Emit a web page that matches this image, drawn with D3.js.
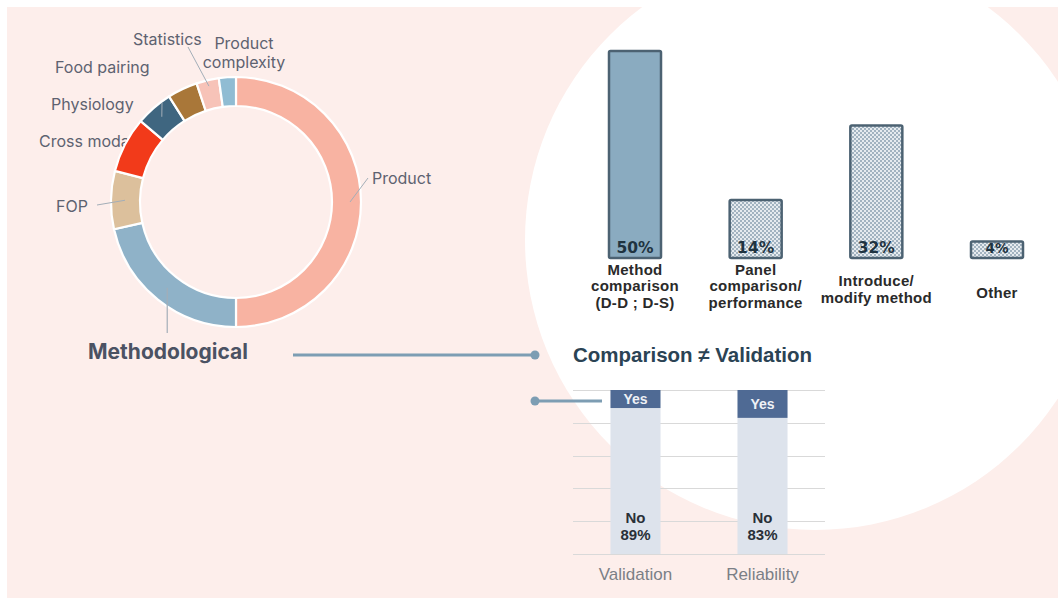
<!DOCTYPE html>
<html><head><meta charset="utf-8">
<script src="https://cdn.jsdelivr.net/npm/d3@7"></script>
<style>html,body{margin:0;padding:0;background:#fff;overflow:hidden}</style>
</head><body>
<svg id="c" width="1058" height="598"></svg>
<script>
// ---------- DATA ----------
const topicNames  = ["Product","Methodological","FOP","Cross modal","Physiology","Food pairing","Statistics","Product complexity"];
const topicShares = [50, 21.5, 7.5, 7.2, 4.8, 3.9, 2.9, 2.2];
const topicColors = ["#f8b3a2","#8fb2c8","#dcc09c","#f23a1a","#3f6680","#a97739","#f7c3b8","#90bcd3"];

const methodCats   = [["Method","comparison","(D-D ; D-S)"],["Panel","comparison/","performance"],["Introduce/","modify method"],["Other"]];
const methodShares = [50, 14, 32, 4];
const methodLabels = ["50%","14%","32%","4%"];

const checkCats  = ["Validation","Reliability"];
const checkYes   = [11, 17];
const checkNo    = [89, 83];
const checkNoLbl = ["89%","83%"];
const gridTicks  = [0,20,40,60,80,100];
const titleText  = "Comparison ≠ Validation";

// ---------- SETUP ----------
const svg = d3.select("#c");
const defs = svg.append("defs");
const pat = defs.append("pattern").attr("id","dots").attr("patternUnits","userSpaceOnUse")
  .attr("width",4).attr("height",4);
pat.append("rect").attr("width",4).attr("height",4).attr("fill","#e6ebef");
pat.append("rect").attr("width",2).attr("height",2).attr("fill","#a2b3c0");
pat.append("rect").attr("x",2).attr("y",2).attr("width",2).attr("height",2).attr("fill","#a2b3c0");

svg.append("rect").attr("x",7).attr("y",7).attr("width",1051).attr("height",591).attr("fill","#fdeeeb");
svg.append("circle").attr("cx",815).attr("cy",240).attr("r",290).attr("fill","#ffffff");

// ---------- DONUT ----------
const cx = 236, cy = 202, rOut = 125, rIn = 96;
const pie = d3.pie().sort(null).value(d => d);
const arcs = pie(topicShares);
const arc = d3.arc().innerRadius(rIn).outerRadius(rOut);
const polar = (r, a) => [cx + r * Math.sin(a), cy - r * Math.cos(a)];
const mid = d => (d.startAngle + d.endAngle) / 2;

const labelLayout = {
  "Product":            {x:372, y:184, anchor:"start", leader:[368,178], lr:114},
  "FOP":                {x:56,  y:212, anchor:"start", leader:[97,205],  lr:111},
  "Cross modal":        {x:39,  y:147, anchor:"start"},
  "Physiology":         {x:51,  y:110, anchor:"start", leader:[162,103], lr:113},
  "Food pairing":       {x:55,  y:73,  anchor:"start"},
  "Statistics":         {x:133, y:45,  anchor:"start", leader:[188,47],  lr:119},
  "Product complexity": {x:244, y:49,  anchor:"middle", lines:["Product","complexity"]}
};
const lblFont = "Inter, 'Noto Sans', sans-serif";

topicNames.forEach((n) => {
  const L = labelLayout[n];
  if (!L) return;
  const t = svg.append("text").attr("x",L.x).attr("y",L.y).attr("text-anchor",L.anchor)
    .attr("font-family",lblFont).attr("font-size",16).attr("fill","#5d6270");
  const lines = L.lines || [n];
  lines.forEach((ln, k) => t.append("tspan").attr("x",L.x).attr("dy", k === 0 ? 0 : 19).text(ln));
});

const g = svg.append("g").attr("transform",`translate(${cx},${cy})`);
g.selectAll("path").data(arcs).join("path")
  .attr("d", arc)
  .attr("fill", (d,i) => topicColors[i])
  .attr("stroke","#ffffff").attr("stroke-width",2.2);

// leader lines
arcs.forEach((d,i) => {
  const L = labelLayout[topicNames[i]];
  if (!L || !L.leader) return;
  const p = polar(L.lr, mid(d));
  svg.append("line").attr("x1",p[0]).attr("y1",p[1]).attr("x2",L.leader[0]).attr("y2",L.leader[1])
    .attr("stroke","#a3aeb8").attr("stroke-width",1);
});
// Methodological callout
{
  const d = arcs[1];
  const p = polar(110, mid(d));
  svg.append("line").attr("x1",p[0]).attr("y1",p[1]).attr("x2",p[0]).attr("y2",333)
    .attr("stroke","#a3aeb8").attr("stroke-width",1.2);
  svg.append("text").attr("x",88).attr("y",359).attr("font-family",lblFont)
    .attr("font-size",21).attr("font-weight",700).attr("fill","#4b5263").text(topicNames[1]);
}

// connectors
const conColor = "#7d9db3";
svg.append("line").attr("x1",293).attr("y1",355).attr("x2",535).attr("y2",355)
  .attr("stroke",conColor).attr("stroke-width",3);
svg.append("circle").attr("cx",535).attr("cy",355).attr("r",4.5).attr("fill",conColor);
svg.append("line").attr("x1",535).attr("y1",401).attr("x2",602).attr("y2",401)
  .attr("stroke",conColor).attr("stroke-width",3);
svg.append("circle").attr("cx",535).attr("cy",401).attr("r",4.5).attr("fill",conColor);

// ---------- TOP BAR CHART ----------
const x1 = d3.scalePoint().domain(d3.range(methodShares.length)).range([635, 997]);
const y1 = d3.scaleLinear().domain([0, 50]).range([258, 51]);
const bw = 52;
const gb = svg.append("g");
gb.selectAll("rect").data(methodShares).join("rect")
  .attr("x", (d,i) => x1(i) - bw/2)
  .attr("y", d => y1(d))
  .attr("width", bw)
  .attr("height", d => y1(0) - y1(d))
  .attr("rx", 1.5)
  .attr("fill", (d,i) => i === 0 ? "#8aabc0" : "url(#dots)")
  .attr("stroke","#4c6272").attr("stroke-width",2.5);
gb.selectAll("text.pct").data(methodShares).join("text").attr("class","pct")
  .attr("x", (d,i) => x1(i))
  .attr("y", y1(0) - 5)
  .attr("text-anchor","middle")
  .attr("font-family","'DejaVu Sans', sans-serif").attr("font-weight",700)
  .attr("font-size", d => Math.min(15.5, (y1(0) - y1(d)) - 3))
  .attr("fill","#1f3340")
  .text((d,i) => methodLabels[i]);
methodCats.forEach((lines, i) => {
  const n = lines.length;
  const midBase = 291 + (3 - n) * 3.5;
  const t = gb.append("text").attr("text-anchor","middle")
    .attr("font-family","'Liberation Sans', Arial, sans-serif").attr("font-weight",700)
    .attr("font-size",15).attr("letter-spacing",0.3).attr("fill","#2a2a2a");
  lines.forEach((ln, k) => t.append("tspan").attr("x", x1(i))
    .attr("y", midBase + (k - (n - 1) / 2) * 16.5).text(ln));
});

// ---------- BOTTOM STACKED CHART ----------
svg.append("text").attr("x",573).attr("y",362)
  .attr("font-family","'Liberation Sans', Arial, sans-serif").attr("font-weight",700)
  .attr("font-size",20.5).attr("fill","#2b4354").text(titleText);

const x2 = d3.scaleBand().domain(checkCats).range([573, 825]).paddingInner(0.606).paddingOuter(0.295);
const y2 = d3.scaleLinear().domain([0, 100]).range([554, 390]);
const gs = svg.append("g");
gs.selectAll("line.grid").data(gridTicks).join("line").attr("class","grid")
  .attr("x1",573).attr("x2",825)
  .attr("y1", d => Math.round(y2(d)) + 0.5).attr("y2", d => Math.round(y2(d)) + 0.5)
  .attr("stroke","#d9d9d9").attr("stroke-width",1);

gs.selectAll("rect.no").data(checkCats).join("rect").attr("class","no")
  .attr("x", d => x2(d)).attr("width", x2.bandwidth())
  .attr("y", (d,i) => y2(checkNo[i]))
  .attr("height", (d,i) => y2(0) - y2(checkNo[i]))
  .attr("fill","#dde3ec");
gs.selectAll("rect.yes").data(checkCats).join("rect").attr("class","yes")
  .attr("x", d => x2(d)).attr("width", x2.bandwidth())
  .attr("y", (d,i) => y2(checkNo[i] + checkYes[i]))
  .attr("height", (d,i) => y2(checkNo[i]) - y2(checkNo[i] + checkYes[i]))
  .attr("fill","#4f6a94");
gs.selectAll("text.yes").data(checkCats).join("text").attr("class","yes")
  .attr("x", d => x2(d) + x2.bandwidth()/2)
  .attr("y", (d,i) => (y2(checkNo[i]) + y2(checkNo[i] + checkYes[i])) / 2 + 5)
  .attr("text-anchor","middle")
  .attr("font-family","'Liberation Sans', Arial, sans-serif").attr("font-weight",700)
  .attr("font-size",14).attr("fill","#eef1f6").text("Yes");
checkCats.forEach((c,i) => {
  const t = gs.append("text").attr("text-anchor","middle")
    .attr("font-family","'Liberation Sans', Arial, sans-serif").attr("font-weight",700)
    .attr("font-size",15).attr("fill","#2a3038");
  t.append("tspan").attr("x", x2(c) + x2.bandwidth()/2).attr("y", y2(0) - 31).text("No");
  t.append("tspan").attr("x", x2(c) + x2.bandwidth()/2).attr("y", y2(0) - 14).text(checkNoLbl[i]);
});
gs.selectAll("text.cat").data(checkCats).join("text").attr("class","cat")
  .attr("x", d => x2(d) + x2.bandwidth()/2).attr("y", 580)
  .attr("text-anchor","middle")
  .attr("font-family","'Liberation Sans', Arial, sans-serif")
  .attr("font-size",17).attr("fill","#7b7f86").text(d => d);
</script>
</body></html>
